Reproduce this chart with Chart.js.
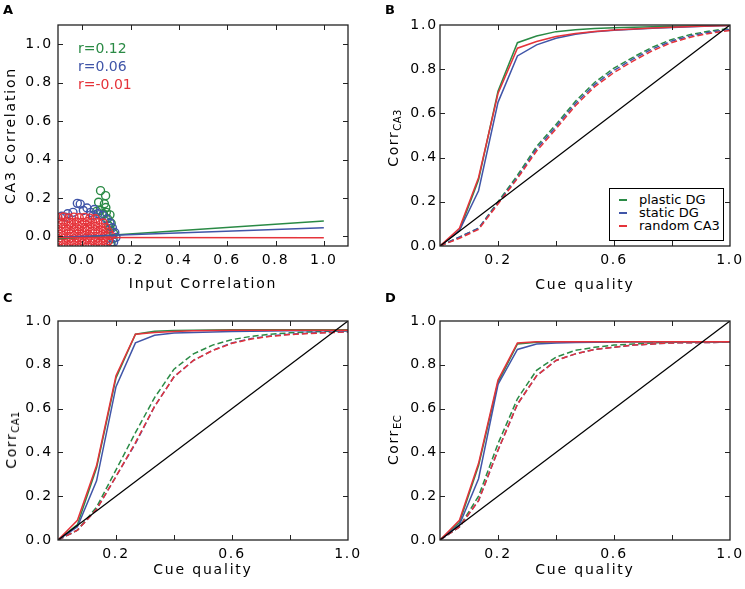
<!DOCTYPE html>
<html><head><meta charset="utf-8">
<script src="https://cdn.jsdelivr.net/npm/chart.js@4.4.1/dist/chart.umd.min.js"></script>
<style>
body{margin:0;background:#fff;}
#wrap{position:relative;width:745px;height:589px;overflow:hidden;font-family:"DejaVu Sans",sans-serif;color:#000;}
canvas{position:absolute;left:0;top:0;}
.plab{position:absolute;font-weight:bold;font-size:13px;line-height:14px;}
.ytitle{position:absolute;font-size:14px;letter-spacing:1.6px;white-space:nowrap;transform:translate(-50%,-50%) rotate(-90deg);}
.ytitle sub{font-size:10px;letter-spacing:0.4px;vertical-align:-3px;}
.rtxt{position:absolute;font-size:14px;line-height:18px;white-space:nowrap;}
#legend{position:absolute;left:609px;top:188px;width:115px;height:53px;border:1px solid #000;background:#fff;box-sizing:border-box;font-size:13px;}
#legend .row{position:absolute;left:0;height:14px;line-height:14px;white-space:nowrap;}
#legend .sw{position:absolute;left:9px;top:6px;width:8px;height:2px;}
#legend .tx{position:absolute;left:29px;top:0;}
</style></head>
<body><div id="wrap">
<canvas id="cA" width="745" height="589"></canvas>
<canvas id="cB" width="745" height="589"></canvas>
<canvas id="cC" width="745" height="589"></canvas>
<canvas id="cD" width="745" height="589"></canvas>
<div class="plab" style="left:3px;top:3px">A</div>
<div class="plab" style="left:385px;top:3px">B</div>
<div class="plab" style="left:3px;top:291px">C</div>
<div class="plab" style="left:385px;top:291px">D</div>
<div class="ytitle" style="left:394px;top:138px">Corr<sub>CA3</sub></div>
<div class="ytitle" style="left:12px;top:440px">Corr<sub>CA1</sub></div>
<div class="ytitle" style="left:394px;top:440px">Corr<sub>EC</sub></div>
<div id="rbox"></div>
<div id="legend"></div>
</div>
<script>
// ---------- colours ----------
const GREEN = '#2a8a45', BLUE = '#4055a8', RED = '#e5333a';

// ---------- panel A: scatter points (input corr, CA3 corr) ----------
const greenPts = [[0.076,0.238],[0.097,0.212],[0.068,0.178],[0.092,0.170],[0.098,0.150],[0.075,0.135],
  [0.115,0.112],[0.088,0.118],[0.105,0.092],[0.120,0.068],[0.115,0.040],[0.130,0.015],[0.128,-0.012],
  [0.118,-0.035],[0.100,0.125],[0.060,0.130],[0.110,0.055]];
const bluePts = [[-0.085,0.105],[-0.060,0.118],[-0.038,0.125],[-0.020,0.172],[-0.008,0.168],[0.005,0.135],
  [0.020,0.148],[0.035,0.125],[0.050,0.140],[0.065,0.118],[0.085,0.110],[0.100,0.090],[0.115,0.070],
  [0.125,0.045],[0.135,0.020],[0.140,-0.005],[0.130,-0.030],[0.120,-0.045],[-0.070,0.100],[0.045,0.110]];
const redPts = [
  [-0.100,0.098],[-0.078,0.101],[-0.056,0.096],[-0.034,0.100],[-0.012,0.097],[0.010,0.099],[0.032,0.095],[0.054,0.092],
  [-0.089,0.074],[-0.067,0.076],[-0.045,0.072],[-0.023,0.075],[-0.001,0.073],[0.021,0.077],[0.043,0.074],[0.065,0.071],[0.087,0.070],
  [-0.100,0.050],[-0.078,0.048],[-0.056,0.052],[-0.034,0.049],[-0.012,0.051],[0.010,0.047],[0.032,0.050],[0.054,0.052],[0.076,0.048],[0.098,0.046],
  [-0.089,0.026],[-0.067,0.028],[-0.045,0.024],[-0.023,0.027],[-0.001,0.025],[0.021,0.029],[0.043,0.026],[0.065,0.024],[0.087,0.027],[0.109,0.023],
  [-0.100,0.002],[-0.078,0.004],[-0.056,0.000],[-0.034,0.003],[-0.012,0.001],[0.010,0.005],[0.032,0.002],[0.054,0.000],[0.076,0.003],[0.098,0.001],[0.118,0.004],
  [-0.089,-0.022],[-0.067,-0.020],[-0.045,-0.024],[-0.023,-0.021],[-0.001,-0.023],[0.021,-0.019],[0.043,-0.022],[0.065,-0.024],[0.087,-0.021],[0.109,-0.023],
  [-0.100,-0.046],[-0.078,-0.044],[-0.056,-0.048],[-0.034,-0.045],[-0.012,-0.047],[0.010,-0.043],[0.032,-0.046],[0.054,-0.048],[0.076,-0.045],[0.098,-0.047]];
// regression lines (end points)
const greenFitX = [-0.1, 1.0], greenFitY = [-0.012, 0.080];
const blueFitX  = [-0.1, 1.0], blueFitY  = [-0.005, 0.045];
const redFitX   = [-0.1, 1.0], redFitY   = [-0.006, -0.007];
const rLabels = ['r=0.12', 'r=0.06', 'r=-0.01'];

// ---------- panels B-D ----------
const cueQuality = [0, 0.067, 0.133, 0.2, 0.267, 0.333, 0.4, 0.467, 0.533, 0.6, 0.667, 0.733, 0.8, 0.867, 0.933, 1.0];
const seriesNames = ['plastic DG', 'static DG', 'random CA3'];

const ca3Plastic = [0, 0.07, 0.30, 0.70, 0.92, 0.95, 0.97, 0.978, 0.984, 0.988, 0.990, 0.992, 0.994, 0.996, 0.998, 1.0];
const ca3Static  = [0, 0.07, 0.25, 0.65, 0.86, 0.91, 0.94, 0.958, 0.969, 0.976, 0.981, 0.985, 0.989, 0.992, 0.995, 0.998];
const ca3Random  = [0, 0.08, 0.31, 0.69, 0.895, 0.925, 0.948, 0.962, 0.971, 0.977, 0.982, 0.986, 0.990, 0.993, 0.996, 0.998];
const ca3PlasticDash = [0, 0.040, 0.080, 0.200, 0.320, 0.450, 0.550, 0.655, 0.740, 0.805, 0.855, 0.900, 0.935, 0.958, 0.973, 0.985];
const ca3StaticDash  = [0, 0.040, 0.080, 0.195, 0.310, 0.440, 0.540, 0.645, 0.730, 0.795, 0.847, 0.892, 0.928, 0.952, 0.968, 0.980];
const ca3RandomDash  = [0, 0.035, 0.075, 0.190, 0.305, 0.430, 0.530, 0.635, 0.720, 0.785, 0.838, 0.884, 0.921, 0.946, 0.963, 0.975];

const ca1Plastic = [0, 0.07, 0.33, 0.74, 0.94, 0.953, 0.957, 0.958, 0.959, 0.960, 0.960, 0.960, 0.960, 0.960, 0.960, 0.960];
const ca1Static  = [0, 0.06, 0.27, 0.70, 0.90, 0.935, 0.945, 0.948, 0.950, 0.952, 0.953, 0.954, 0.955, 0.955, 0.955, 0.955];
const ca1Random  = [0, 0.09, 0.34, 0.75, 0.94, 0.948, 0.952, 0.955, 0.957, 0.958, 0.958, 0.958, 0.958, 0.958, 0.958, 0.958];
const ca1PlasticDash = [0, 0.045, 0.15, 0.32, 0.49, 0.65, 0.78, 0.85, 0.89, 0.915, 0.930, 0.940, 0.946, 0.950, 0.953, 0.955];
const ca1StaticDash  = [0, 0.045, 0.14, 0.29, 0.44, 0.61, 0.745, 0.82, 0.866, 0.900, 0.920, 0.932, 0.940, 0.945, 0.948, 0.950];
const ca1RandomDash  = [0, 0.045, 0.14, 0.29, 0.445, 0.61, 0.745, 0.82, 0.865, 0.898, 0.918, 0.930, 0.938, 0.943, 0.947, 0.950];

const ecPlastic = [0, 0.08, 0.34, 0.72, 0.895, 0.903, 0.905, 0.905, 0.905, 0.905, 0.905, 0.905, 0.905, 0.905, 0.905, 0.905];
const ecStatic  = [0, 0.07, 0.28, 0.71, 0.87, 0.895, 0.900, 0.902, 0.903, 0.904, 0.905, 0.905, 0.905, 0.905, 0.905, 0.905];
const ecRandom  = [0, 0.09, 0.35, 0.73, 0.90, 0.905, 0.905, 0.905, 0.905, 0.905, 0.905, 0.905, 0.905, 0.905, 0.905, 0.905];
const ecPlasticDash = [0, 0.06, 0.20, 0.44, 0.645, 0.775, 0.835, 0.866, 0.880, 0.890, 0.895, 0.900, 0.903, 0.904, 0.905, 0.905];
const ecStaticDash  = [0, 0.06, 0.18, 0.41, 0.620, 0.750, 0.820, 0.850, 0.870, 0.880, 0.890, 0.895, 0.900, 0.901, 0.902, 0.903];
const ecRandomDash  = [0, 0.06, 0.18, 0.41, 0.620, 0.750, 0.820, 0.850, 0.870, 0.880, 0.890, 0.895, 0.900, 0.901, 0.902, 0.903];

const diagX = [0, 1], diagY = [0, 1];

// ticks
const unitTicks = [0, 0.2, 0.4, 0.6, 0.8, 1.0];
const cueLabelTicks = [0.2, 0.6, 1.0];

// ---------- helpers ----------
const FONT = {family: "'DejaVu Sans', sans-serif", size: 14};
const CW = 745, CH = 589;
const pts = arr => arr.map(([x, y]) => ({x, y}));
const zip = (xs, ys) => xs.map((x, i) => ({x, y: ys[i]}));

const frameTicks = {
  id: 'frameTicks',
  beforeDraw(chart) { chart.ctx.letterSpacing = '1.8px'; },
  afterDraw(chart) {
    const {ctx, chartArea: a} = chart;
    ctx.save();
    ctx.letterSpacing = '0px';
    ctx.strokeStyle = '#222';
    ctx.lineWidth = 1;
    ctx.beginPath();
    const xs = chart.scales.x, ys = chart.scales.y;
    xs.ticks.forEach(t => {
      const p = Math.round(xs.getPixelForValue(t.value)) + 0.5;
      if (p <= a.left + 1 || p >= a.right - 1) return;
      ctx.moveTo(p, a.bottom); ctx.lineTo(p, a.bottom - 5);
      ctx.moveTo(p, a.top); ctx.lineTo(p, a.top + 5);
    });
    ys.ticks.forEach(t => {
      const p = Math.round(ys.getPixelForValue(t.value)) + 0.5;
      if (p <= a.top + 1 || p >= a.bottom - 1) return;
      ctx.moveTo(a.left, p); ctx.lineTo(a.left + 5, p);
      ctx.moveTo(a.right, p); ctx.lineTo(a.right - 5, p);
    });
    ctx.stroke();
    ctx.lineWidth = 1.3;
    ctx.strokeRect(a.left, a.top, a.right - a.left, a.bottom - a.top);
    ctx.restore();
  }
};

function makeChart(id, area, o) {
  const xH = o.xH, yW = o.yW;
  return new Chart(document.getElementById(id), {
    type: 'scatter',
    data: {datasets: o.datasets},
    options: {
      responsive: false, animation: false, events: [],
      layout: {padding: {left: area.l - yW, top: area.t, right: CW - area.r, bottom: CH - area.b - xH}},
      plugins: {legend: {display: false}, tooltip: {enabled: false}, title: {display: false}},
      scales: {
        x: {
          type: 'linear', position: 'bottom', min: o.xMin, max: o.xMax,
          grid: {display: false, drawTicks: false}, border: {display: false},
          afterBuildTicks: s => { s.ticks = o.xTicks.map(v => ({value: v})); },
          afterFit: s => { s.height = xH; s.paddingLeft = 0; s.paddingRight = 0; },
          ticks: {autoSkip: false, maxRotation: 0, minRotation: 0, padding: o.xPad, font: FONT, color: '#000',
                  callback: o.xLabel},
          title: {display: true, text: o.xTitle, padding: 0, font: FONT, color: '#000'}
        },
        y: {
          type: 'linear', position: 'left', min: o.yMin, max: o.yMax,
          grid: {display: false, drawTicks: false}, border: {display: false},
          afterBuildTicks: s => { s.ticks = unitTicks.map(v => ({value: v})); },
          afterFit: s => { s.width = yW; s.paddingTop = 0; s.paddingBottom = 0; },
          ticks: {autoSkip: false, padding: o.yPad, font: FONT, color: '#000', callback: v => v.toFixed(1)},
          title: o.yTitle ? {display: true, text: o.yTitle, padding: 0, font: FONT, color: '#000'} : {display: false}
        }
      }
    },
    plugins: [frameTicks]
  });
}

const lineDs = (xs, ys, color, dashed, order, w) => ({
  data: zip(xs, ys), showLine: true, borderColor: color, backgroundColor: color,
  borderWidth: w || 1.5, pointRadius: 0, borderDash: dashed ? [6, 3] : [], tension: 0, order, clip: 0
});
const cueLabel = v => cueLabelTicks.some(t => Math.abs(t - v) < 1e-6) ? v.toFixed(1) : '';
const scatDs = (arr, color, order) => ({
  data: pts(arr), borderColor: color, backgroundColor: 'rgba(255,255,255,0)', pointRadius: 4, borderWidth: 1.4, order, clip: 0
});

// ---------- Panel A ----------
makeChart('cA', {l: 58, t: 25, r: 348, b: 246}, {
  xMin: -0.1, xMax: 1.1, yMin: -0.05, yMax: 1.1, xTicks: unitTicks, xLabel: v => v.toFixed(1),
  xTitle: 'Input Correlation', yTitle: 'CA3 Correlation', xH: 46.4, yW: 55, xPad: 6, yPad: 5,
  datasets: [
    lineDs(redFitX, redFitY, RED, false, 0),
    lineDs(blueFitX, blueFitY, BLUE, false, 0),
    lineDs(greenFitX, greenFitY, GREEN, false, 0),
    scatDs(redPts, RED, 1),
    scatDs(bluePts, BLUE, 2),
    scatDs(greenPts, GREEN, 3)
  ]
});

function cuePanel(id, area, xH, yPad, sets) {
  makeChart(id, area, {
    xMin: 0, xMax: 1, yMin: 0, yMax: 1, xTicks: unitTicks, xLabel: cueLabel,
    xTitle: 'Cue quality', yTitle: null, xH, yW: 45, xPad: 6, yPad,
    datasets: [
      lineDs(diagX, diagY, '#000', false, 0, 1.3),
      lineDs(cueQuality, sets[2], RED, false, 1),
      lineDs(cueQuality, sets[1], BLUE, false, 1),
      lineDs(cueQuality, sets[0], GREEN, false, 1),
      lineDs(cueQuality, sets[5], RED, true, 2),
      lineDs(cueQuality, sets[4], BLUE, true, 2),
      lineDs(cueQuality, sets[3], GREEN, true, 2)
    ]
  });
}
cuePanel('cB', {l: 440, t: 25, r: 730, b: 246}, 47.4, 2,
  [ca3Plastic, ca3Static, ca3Random, ca3PlasticDash, ca3StaticDash, ca3RandomDash]);
cuePanel('cC', {l: 58, t: 321, r: 348, b: 540}, 38.4, 5,
  [ca1Plastic, ca1Static, ca1Random, ca1PlasticDash, ca1StaticDash, ca1RandomDash]);
cuePanel('cD', {l: 440, t: 321, r: 730, b: 540}, 38.4, 2,
  [ecPlastic, ecStatic, ecRandom, ecPlasticDash, ecStaticDash, ecRandomDash]);

// ---------- text overlays ----------
const rColors = [GREEN, BLUE, RED];
const rbox = document.getElementById('rbox');
rLabels.forEach((t, i) => {
  const d = document.createElement('div');
  d.className = 'rtxt'; d.textContent = t; d.style.color = rColors[i];
  d.style.left = '78px'; d.style.top = (39 + i * 18) + 'px';
  rbox.appendChild(d);
});
const leg = document.getElementById('legend');
seriesNames.forEach((n, i) => {
  const r = document.createElement('div');
  r.className = 'row'; r.style.top = (4 + i * 13) + 'px';
  r.innerHTML = '<span class="sw" style="background:' + rColors[i] + '"></span><span class="tx">' + n + '</span>';
  leg.appendChild(r);
});
</script>
</body></html>
